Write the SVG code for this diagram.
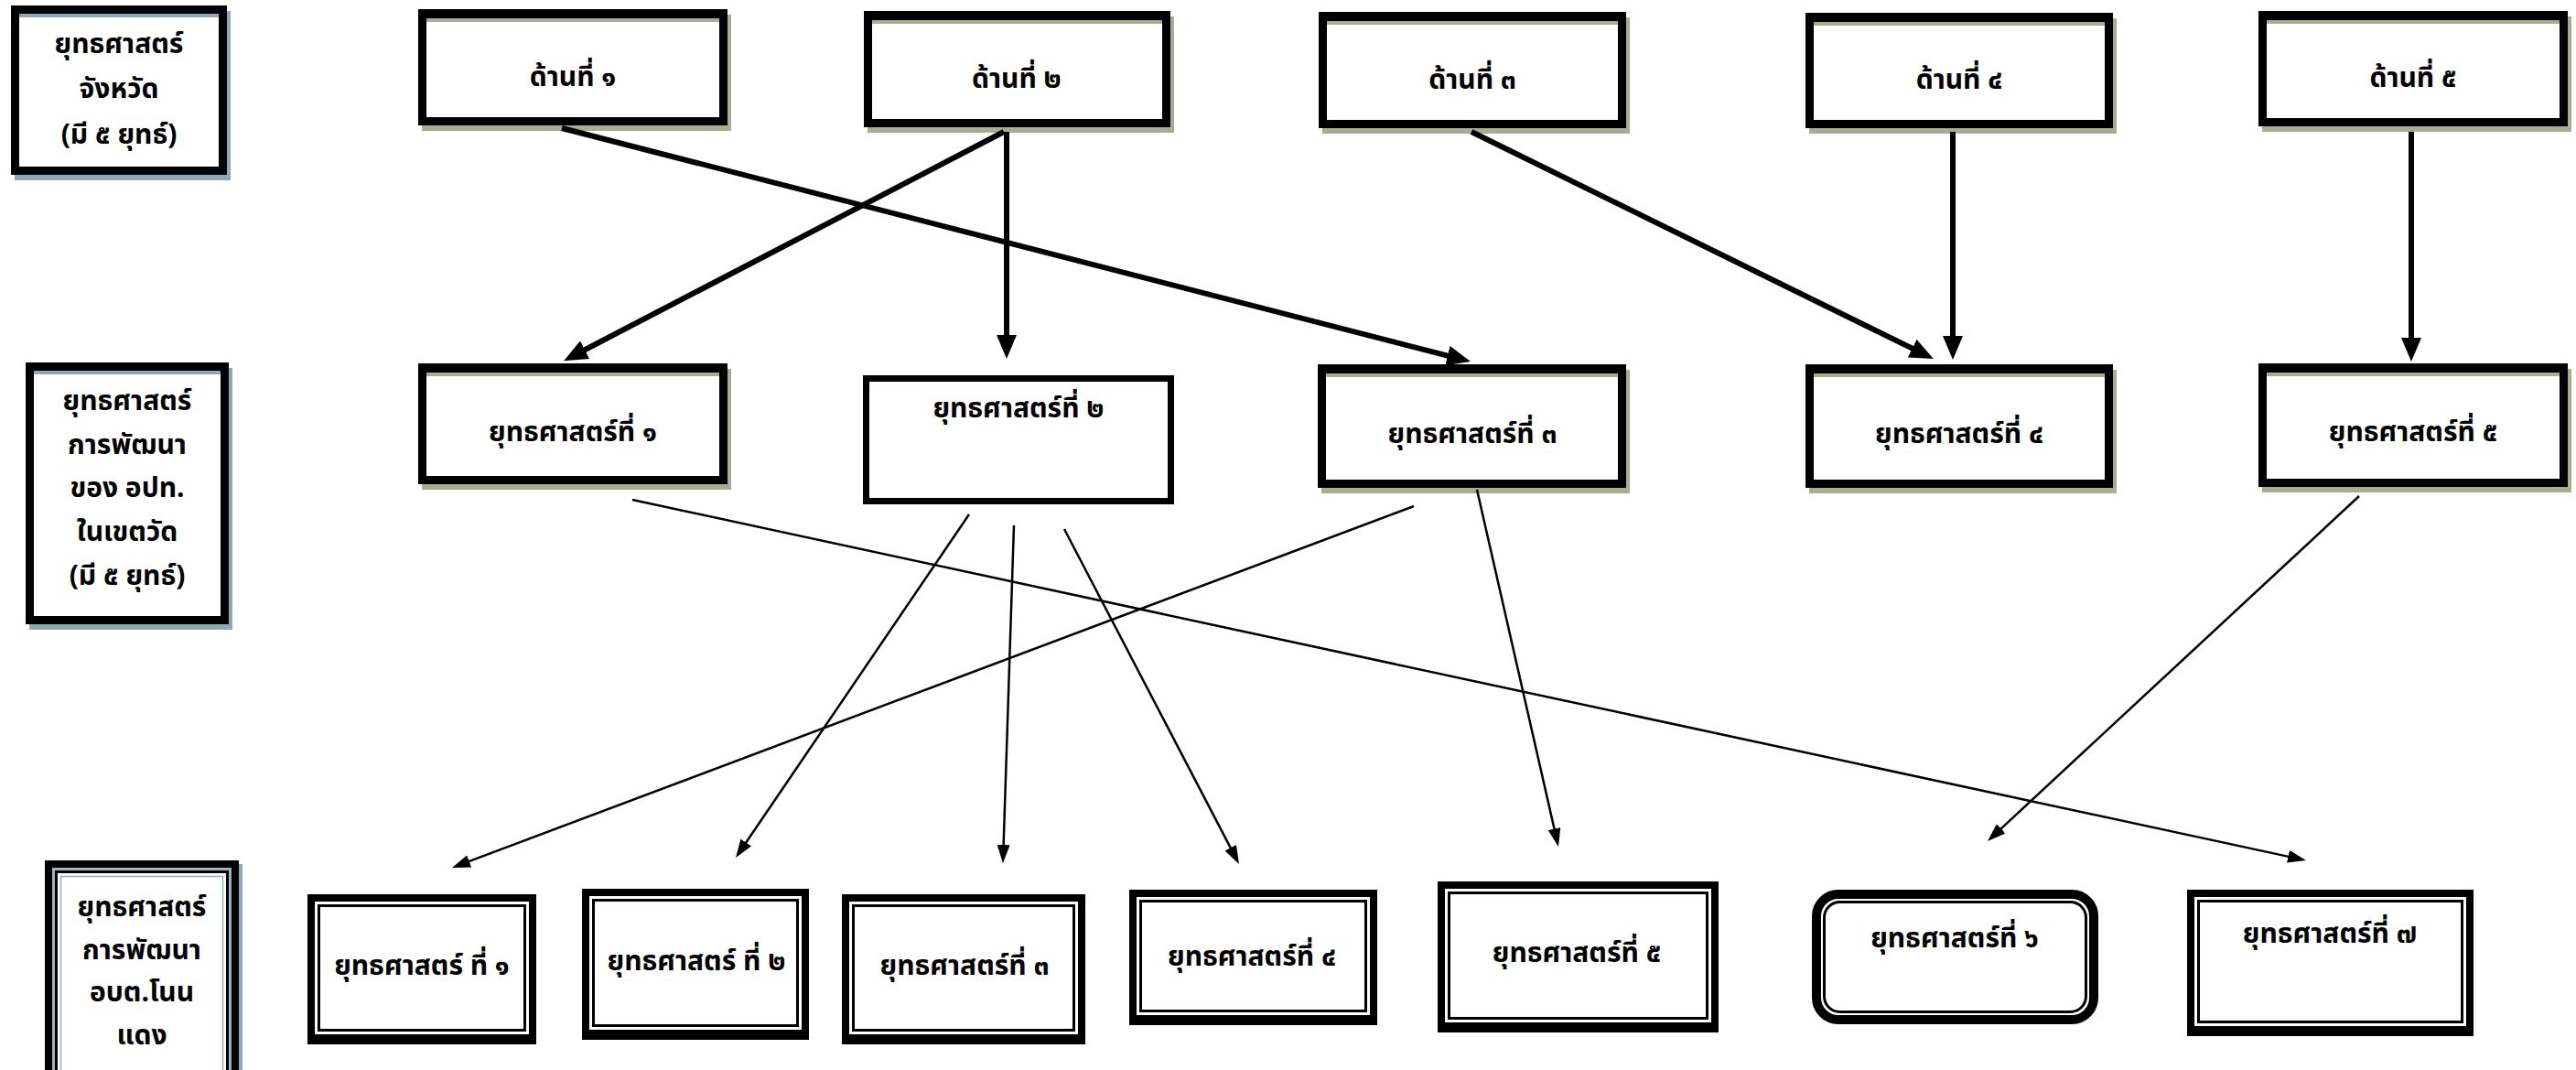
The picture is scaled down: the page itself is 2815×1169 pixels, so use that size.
<svg xmlns="http://www.w3.org/2000/svg" width="2815" height="1169" viewBox="0 0 2815 1169">
<style>
text{font-family:'Noto Sans Thai','Noto Sans','DejaVu Sans',sans-serif;font-size:30px;font-weight:bold;fill:#000;text-anchor:middle}
.sh{fill:#a8ad91}
.shb{fill:#8fa9b4}
.blk{fill:#000}
.wht{fill:#fff}
.thin{fill:none;stroke:#000;stroke-width:3}
.thick-line{stroke:#000;stroke-width:6;fill:none}
.thin-line{stroke:#000;stroke-width:2.5;fill:none}
</style>
<defs>
<marker id="ah" markerUnits="userSpaceOnUse" markerWidth="26" markerHeight="22" viewBox="0 0 26 22" refX="4" refY="11" orient="auto"><path d="M0,0 L26,11 L0,22 z" fill="#000"/></marker>
<marker id="ahs" markerUnits="userSpaceOnUse" markerWidth="20" markerHeight="14" viewBox="0 0 20 14" refX="4" refY="7" orient="auto"><path d="M0,0 L20,7 L0,14 z" fill="#000"/></marker>
</defs>
<rect width="2815" height="1169" fill="#fff"/>

<!-- Label boxes -->
<g id="label-province">
<rect class="shb" x="16" y="12" width="236" height="185"/>
<rect class="blk" x="12" y="6" width="236" height="185"/>
<rect class="wht" x="21" y="15" width="218" height="167"/>
<rect class="shb" x="21" y="15" width="218" height="4"/>
<text x="130" y="58">ยุทธศาสตร์</text>
<text x="130" y="107">จังหวัด</text>
<text x="130" y="157">(มี ๕ ยุทธ์)</text>
</g>
<g id="label-local">
<rect class="shb" x="32" y="402" width="222" height="286"/>
<rect class="blk" x="28" y="396" width="222" height="286"/>
<rect class="wht" x="37" y="405" width="204" height="268"/>
<rect class="shb" x="37" y="405" width="204" height="4"/>
<text x="139" y="448">ยุทธศาสตร์</text>
<text x="139" y="496">การพัฒนา</text>
<text x="139" y="543">ของ อปท.</text>
<text x="139" y="591">ในเขตวัด</text>
<text x="139" y="639">(มี ๕ ยุทธ์)</text>
</g>
<g id="label-sao">
<rect class="shb" x="53" y="944" width="212" height="240"/>
<rect class="blk" x="49" y="940" width="212" height="240"/>
<rect x="57" y="948" width="196" height="232" fill="#9fb3bb"/>
<rect class="blk" x="60" y="951" width="190" height="229"/>
<rect class="wht" x="63" y="954" width="184" height="226"/>
<rect x="66.5" y="957.5" width="177" height="220" fill="none" stroke="#9aa" stroke-width="1.5"/>
<text x="155" y="1001">ยุทธศาสตร์</text>
<text x="155" y="1048">การพัฒนา</text>
<text x="155" y="1094">อบต.โนน</text>
<text x="155" y="1141">แดง</text>
</g>

<!-- Row 1 -->
<g id="d1">
<rect class="sh" x="461" y="16" width="338" height="127"/>
<rect class="blk" x="457" y="10" width="338" height="127"/>
<rect class="wht" x="466" y="20" width="320" height="108"/>
<rect class="sh" x="466" y="20" width="320" height="4"/>
<text x="626" y="94">ด้านที่ ๑</text>
</g>
<g id="d2">
<rect class="sh" x="948" y="18" width="335" height="127"/>
<rect class="blk" x="944" y="12" width="335" height="127"/>
<rect class="wht" x="953" y="22" width="317" height="108"/>
<rect class="sh" x="953" y="22" width="317" height="4"/>
<text x="1111" y="96">ด้านที่ ๒</text>
</g>
<g id="d3">
<rect class="sh" x="1445" y="19" width="336" height="127"/>
<rect class="blk" x="1441" y="13" width="336" height="127"/>
<rect class="wht" x="1450" y="23" width="318" height="108"/>
<rect class="sh" x="1450" y="23" width="318" height="4"/>
<text x="1609" y="97">ด้านที่ ๓</text>
</g>
<g id="d4">
<rect class="sh" x="1977" y="20" width="336" height="126"/>
<rect class="blk" x="1973" y="14" width="336" height="126"/>
<rect class="wht" x="1982" y="24" width="318" height="107"/>
<rect class="sh" x="1982" y="24" width="318" height="4"/>
<text x="2141" y="97">ด้านที่ ๔</text>
</g>
<g id="d5">
<rect class="sh" x="2472" y="18" width="338" height="126"/>
<rect class="blk" x="2468" y="12" width="338" height="126"/>
<rect class="wht" x="2477" y="22" width="320" height="107"/>
<rect class="sh" x="2477" y="22" width="320" height="4"/>
<text x="2637" y="95">ด้านที่ ๕</text>
</g>

<!-- Row 2 -->
<g id="s1">
<rect class="sh" x="461" y="403" width="338" height="132"/>
<rect class="blk" x="457" y="397" width="338" height="132"/>
<rect class="wht" x="466" y="407" width="320" height="113"/>
<rect class="sh" x="466" y="407" width="320" height="4"/>
<text x="626" y="482">ยุทธศาสตร์ที่ ๑</text>
</g>
<g id="s2">
<rect class="blk" x="943" y="410" width="340" height="141"/>
<rect class="wht" x="950" y="417" width="326" height="127"/>
<text x="1113" y="456">ยุทธศาสตร์ที่ ๒</text>
</g>
<g id="s3">
<rect class="sh" x="1444" y="404" width="337" height="135"/>
<rect class="blk" x="1440" y="398" width="337" height="135"/>
<rect class="wht" x="1449" y="408" width="319" height="116"/>
<rect class="sh" x="1449" y="408" width="319" height="4"/>
<text x="1609" y="484">ยุทธศาสตร์ที่ ๓</text>
</g>
<g id="s4">
<rect class="sh" x="1977" y="404" width="336" height="135"/>
<rect class="blk" x="1973" y="398" width="336" height="135"/>
<rect class="wht" x="1982" y="408" width="318" height="116"/>
<rect class="sh" x="1982" y="408" width="318" height="4"/>
<text x="2141" y="484">ยุทธศาสตร์ที่ ๔</text>
</g>
<g id="s5">
<rect class="sh" x="2472" y="403" width="338" height="135"/>
<rect class="blk" x="2468" y="397" width="338" height="135"/>
<rect class="wht" x="2477" y="407" width="320" height="116"/>
<rect class="sh" x="2477" y="407" width="320" height="4"/>
<text x="2637" y="482">ยุทธศาสตร์ที่ ๕</text>
</g>

<!-- Row 3 -->
<g id="t1">
<rect class="blk" x="336" y="977" width="250" height="164"/>
<rect class="wht" x="344" y="985" width="234" height="145"/>
<rect class="thin" x="348.5" y="989.5" width="225" height="136"/>
<text x="461" y="1065">ยุทธศาสตร์ ที่ ๑</text>
</g>
<g id="t2">
<rect class="blk" x="636" y="971" width="248" height="165"/>
<rect class="wht" x="644" y="979" width="232" height="146"/>
<rect class="thin" x="648.5" y="983.5" width="223" height="137"/>
<text x="761" y="1060">ยุทธศาสตร์ ที่ ๒</text>
</g>
<g id="t3">
<rect class="blk" x="920" y="977" width="266" height="164"/>
<rect class="wht" x="928" y="985" width="250" height="145"/>
<rect class="thin" x="932.5" y="989.5" width="241" height="136"/>
<text x="1054" y="1065">ยุทธศาสตร์ที่ ๓</text>
</g>
<g id="t4">
<rect class="blk" x="1234" y="972" width="271" height="148"/>
<rect class="wht" x="1242" y="980" width="255" height="129"/>
<rect class="thin" x="1246.5" y="984.5" width="246" height="120"/>
<text x="1368" y="1055">ยุทธศาสตร์ที่ ๔</text>
</g>
<g id="t5">
<rect class="blk" x="1571" y="963" width="307" height="165"/>
<rect class="wht" x="1579" y="971" width="291" height="146"/>
<rect class="thin" x="1583.5" y="975.5" width="282" height="137"/>
<text x="1723" y="1051">ยุทธศาสตร์ที่ ๕</text>
</g>
<g id="t6">
<rect x="1985" y="977" width="303" height="137" rx="24" fill="none" stroke="#000" stroke-width="10"/>
<rect class="thin" x="1993.5" y="985.5" width="286" height="120" rx="17"/>
<text x="2136" y="1035">ยุทธศาสตร์ที่ ๖</text>
</g>
<g id="t7">
<rect class="blk" x="2390" y="972" width="313" height="160"/>
<rect class="wht" x="2398" y="980" width="297" height="141"/>
<rect class="thin" x="2402.5" y="984.5" width="288" height="132"/>
<text x="2546" y="1030">ยุทธศาสตร์ที่ ๗</text>
</g>

<!-- Connectors -->
<g id="connectors">
<line class="thick-line" x1="614" y1="140" x2="1585.7" y2="389.6" marker-end="url(#ah)"/>
<line class="thick-line" x1="1097" y1="144" x2="635.6" y2="384" marker-end="url(#ah)"/>
<line class="thick-line" x1="1100" y1="144" x2="1100" y2="370" marker-end="url(#ah)"/>
<line class="thick-line" x1="1608" y1="144" x2="2093.2" y2="382.4" marker-end="url(#ah)"/>
<line class="thick-line" x1="2134" y1="144" x2="2134" y2="371" marker-end="url(#ah)"/>
<line class="thick-line" x1="2635" y1="144" x2="2635" y2="373" marker-end="url(#ah)"/>
<line class="thin-line" x1="691" y1="546" x2="2504.4" y2="936.6" marker-end="url(#ahs)"/>
<line class="thin-line" x1="1059" y1="562" x2="813" y2="923.8" marker-end="url(#ahs)"/>
<line class="thin-line" x1="1108" y1="574" x2="1096.5" y2="927" marker-end="url(#ahs)"/>
<line class="thin-line" x1="1163" y1="578" x2="1346.6" y2="929.8" marker-end="url(#ahs)"/>
<line class="thin-line" x1="1545" y1="553" x2="509" y2="942.4" marker-end="url(#ahs)"/>
<line class="thin-line" x1="1614" y1="535" x2="1699.4" y2="909.4" marker-end="url(#ahs)"/>
<line class="thin-line" x1="2578" y1="542" x2="2183.7" y2="908.1" marker-end="url(#ahs)"/>
</g>
</svg>
